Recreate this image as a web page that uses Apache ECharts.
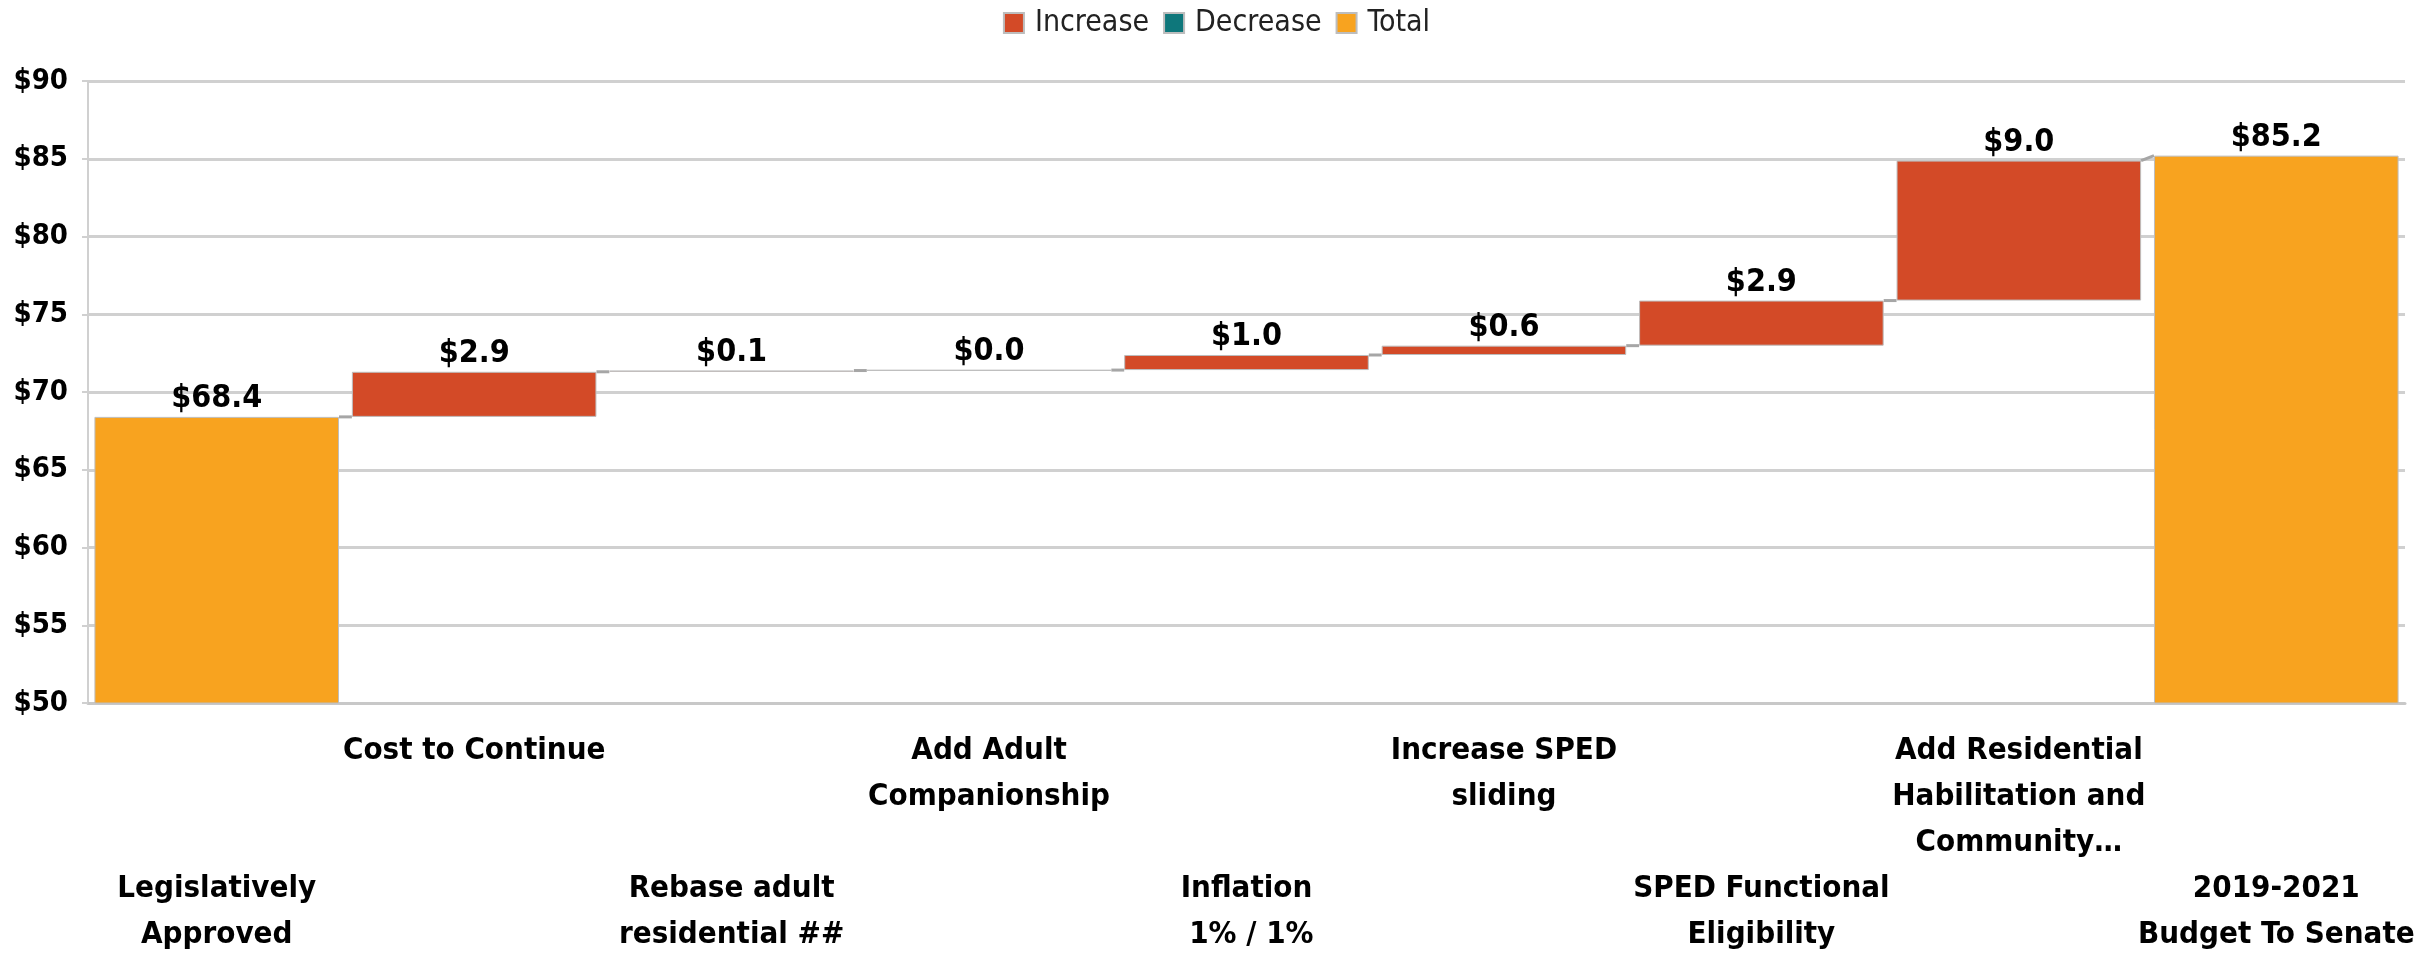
<!DOCTYPE html>
<html>
<head>
<meta charset="utf-8">
<script src="https://cdn.jsdelivr.net/npm/echarts@6/dist/echarts.min.js"></script>
<style>
  html, body { margin: 0; padding: 0; background: #fff; }
  #chart { width: 2433px; height: 959px; }
</style>
</head>
<body>
<div id="chart"></div>
<script>
// waterfall: budget steps ($ millions)
const categories = [
    'Legislatively\nApproved',
    'Cost to Continue',
    'Rebase adult\nresidential ##',
    'Add Adult\nCompanionship',
    'Inflation\n 1% / 1%',
    'Increase SPED\nsliding',
    'SPED Functional\nEligibility',
    'Add Residential\nHabilitation and\nCommunity…',
    '2019-2021\nBudget To Senate'
];
const startTotal = 68.4;
const changes = [2.9, 0.08, 0.03, 0.97, 0.6, 2.9, 9.0];
const endTotal = 85.2;
const yMin = 50, yMax = 90, yStep = 5;

const FONT = "'DejaVu Sans Condensed', 'DejaVu Sans', sans-serif";

// build stacked arrays
const base = [], inc = [], dec = [], tot = [], tops = [], starts = [];
tot.push(startTotal); base.push(0); inc.push('-'); dec.push('-');
tops.push(startTotal); starts.push(0);
let run = startTotal;
changes.forEach(c => {
    starts.push(run);
    base.push(run);
    inc.push(c);
    dec.push('-');
    tot.push('-');
    run += c;
    tops.push(run);
});
base.push(0); inc.push('-'); dec.push('-'); tot.push(endTotal);
starts.push(endTotal); tops.push(endTotal);

// connector from top of bar i to start of bar i+1
const links = [];
for (let i = 0; i < categories.length - 1; i++) {
    links.push([i, tops[i], starts[i + 1]]);
}

const chart = echarts.init(document.getElementById('chart'));
const valueLabel = {
    show: true, position: 'top', distance: 2,
    color: '#000', fontWeight: 'bold', fontSize: 32, fontFamily: FONT,
    formatter: p => '$' + Number(p.value).toFixed(1)
};
const border = { borderColor: '#bdbdbd', borderWidth: 1 };

chart.setOption({
    animation: false,
    textStyle: { fontFamily: FONT },
    legend: {
        top: 3, left: 'center',
        data: ['Increase', 'Decrease', 'Total'],
        icon: 'rect', itemWidth: 20, itemHeight: 20, itemGap: 14,
        textStyle: { fontSize: 30, color: '#222', fontFamily: FONT, padding: [0, 0, 0, 6] }
    },
    grid: { left: 88, right: 28, top: 81, bottom: 256 },
    xAxis: {
        type: 'category', data: categories,
        axisTick: { show: false },
        axisLine: { lineStyle: { color: '#c8c8c8', width: 3 } },
        axisLabel: {
            interval: 0, margin: 25,
            color: '#000', fontWeight: 'bold', fontSize: 31, lineHeight: 46, fontFamily: FONT,
            formatter: (v, i) => (i % 2 === 0 ? '\n\n\n' : '') + v
        }
    },
    yAxis: {
        type: 'value', min: yMin, max: yMax, interval: yStep,
        axisLine: { show: true, lineStyle: { color: '#d0d0d0', width: 2 } },
        axisTick: { show: true, length: 6, lineStyle: { color: '#d0d0d0', width: 2 } },
        splitLine: { lineStyle: { color: '#d0d0d0', width: 3 } },
        axisLabel: {
            color: '#000', fontWeight: 'bold', fontSize: 29, margin: 20, fontFamily: FONT,
            formatter: v => '$' + v
        }
    },
    series: [
        {
            name: 'base', type: 'bar', stack: 'w', data: base,
            barCategoryGap: '5%',
            itemStyle: { color: 'transparent' },
            emphasis: { disabled: true }, silent: true
        },
        {
            name: 'Increase', type: 'bar', stack: 'w', data: inc,
            itemStyle: Object.assign({ color: '#D34A27' }, border),
            label: valueLabel
        },
        {
            name: 'Decrease', type: 'bar', stack: 'w', data: dec,
            itemStyle: Object.assign({ color: '#0E777B' }, border),
            label: valueLabel
        },
        {
            name: 'Total', type: 'bar', stack: 'w', data: tot,
            itemStyle: Object.assign({ color: '#F8A31F' }, border),
            label: valueLabel
        },
        {
            name: 'links', type: 'custom', silent: true, z: 1,
            data: links,
            renderItem: function (params, api) {
                const half = api.size([1, 0])[0] * 0.95 / 2;
                const a = api.coord([api.value(0), api.value(1)]);
                const b = api.coord([api.value(0) + 1, api.value(2)]);
                return {
                    type: 'line',
                    shape: { x1: a[0] + half, y1: a[1], x2: b[0] - half, y2: b[1] },
                    style: { stroke: '#a6a6a6', lineWidth: 3 }
                };
            }
        }
    ]
});
</script>
</body>
</html>
